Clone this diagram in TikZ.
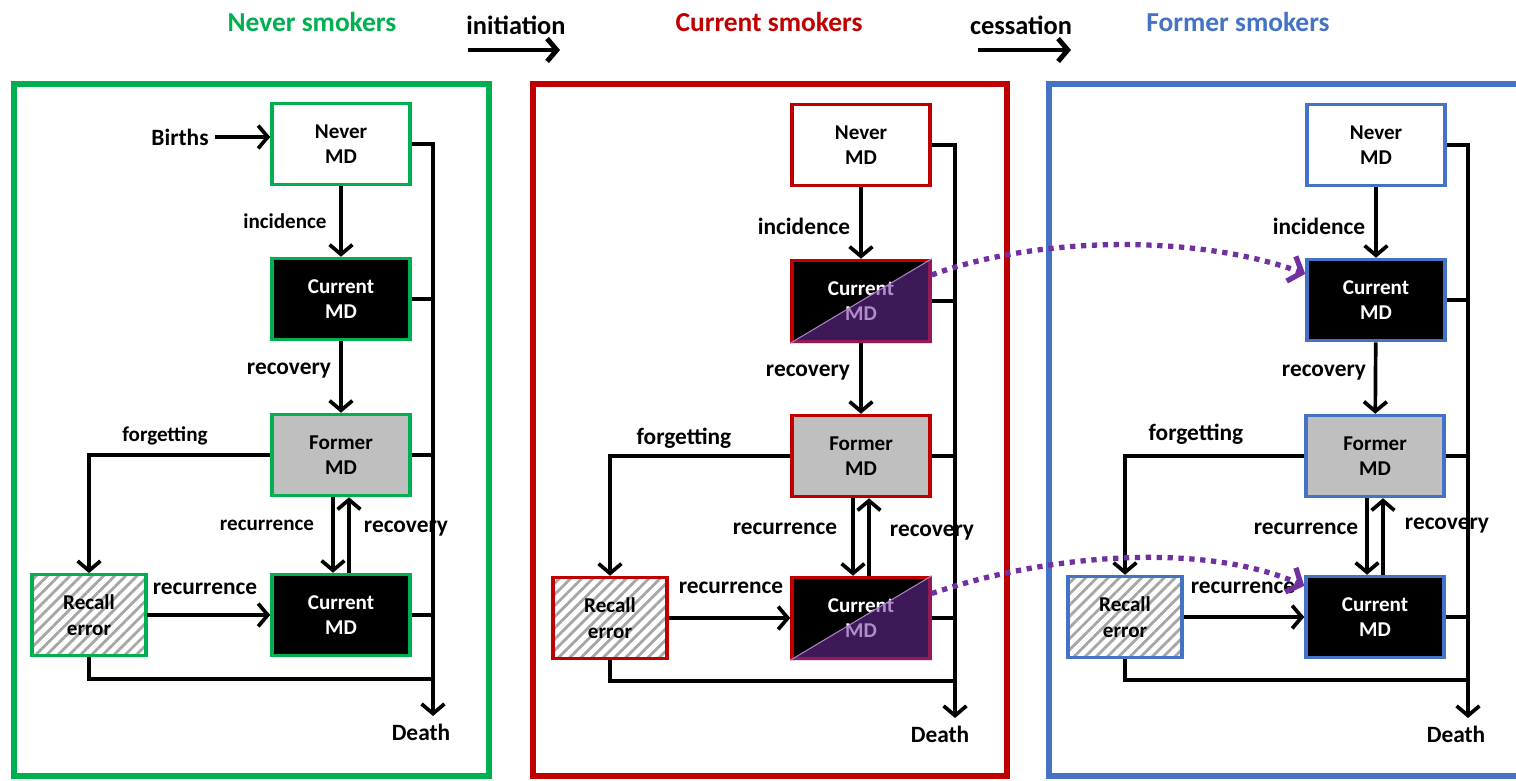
\documentclass[tikz,border=0pt]{standalone}
\usepackage{fontspec}
\setmainfont{Carlito}
\usepackage{xcolor}
\usetikzlibrary{arrows.meta,patterns.meta,calc}

\definecolor{nevgreen}{RGB}{0,176,80}
\definecolor{curred}{RGB}{192,0,0}
\definecolor{formblue}{RGB}{68,114,196}
\definecolor{mdpurple}{RGB}{112,48,160}

\begin{document}
\begin{tikzpicture}[x=0.2mm, y=-0.2mm, font=\bfseries,
  state/.style={draw, line width=2pt, minimum width=27.6mm, minimum height=16.2mm,
                align=center, font=\fontsize{12}{14.5}\selectfont\bfseries},
  never/.style={state, fill=white},
  current/.style={state, fill=black, text=white},
  former/.style={state, fill=black!25},
  recall/.style={state, minimum width=22.8mm,
                 pattern={Lines[angle=45,distance=4.5pt,line width=1.6pt]}, pattern color=black!35},
  ln/.style={line width=2.1pt},
  arr/.style={ln, -{Straight Barb[length=5.5pt,width=13pt]}},
  lab/.style={font=\fontsize{13.3}{15}\selectfont\bfseries},
  slab/.style={font=\fontsize{12}{14}\selectfont\bfseries},
  head/.style={font=\fontsize{15.6}{18}\selectfont\bfseries},
  mdlink/.style={mdpurple, line width=3pt, dash pattern=on 3pt off 3.2pt,
                 -{Straight Barb[length=6.5pt,width=15pt]}}
]
\useasboundingbox (0,0) rectangle (1516,780);

% Headers
\node (hnev) at (312,22) [head, text=nevgreen] {Never smokers};
\node (hcur) at (769,22) [head, text=curred] {Current smokers};
\node (hfor) at (1238,22) [head, text=formblue] {Former smokers};
\node (init) at (516,25) [font=\fontsize{15}{17}\selectfont\bfseries] {initiation};
\node (cess) at (1021,25) [font=\fontsize{15}{17}\selectfont\bfseries] {cessation};
\coordinate (ia) at (468,50); \coordinate (ib) at (560,50);
\coordinate (ca) at (978,50); \coordinate (cb) at (1071,50);
\draw[arr, line width=2.8pt] (ia) -- (ib);
\draw[arr, line width=2.8pt] (ca) -- (cb);

% Panel frames
\draw[nevgreen, line width=3.2pt] (14,84) rectangle (489,776);
\draw[curred, line width=3.2pt] (533,84) rectangle (1007,776);
\draw[formblue, line width=3.2pt] (1049,84) rectangle (1540,776);

% Never smokers
\node (nev1) at (341,144) [never, draw=nevgreen] {Never\\MD};
\node (cur1) at (341,299) [current, draw=nevgreen] {Current\\MD};
\node (for1) at (341,455) [former, draw=nevgreen] {Former\\MD};
\node (curb1) at (341,615) [current, draw=nevgreen] {Current\\MD};
\node (rec1) at (89,615) [recall, draw=nevgreen] {Recall\\error};
\node (births) at (180,137) [lab] {Births};
\node (death1) at (421,732) [lab] {Death};
\coordinate (d1) at (433,716);
\coordinate (b1) at (433,679);

\draw[arr] (births.east) -- (births.east -| nev1.west);
\draw[arr] (nev1) -- (cur1);
\draw[arr] (cur1) -- (for1);
\draw[arr] ([xshift=-1.6mm]for1.south) -- ([xshift=-1.6mm]curb1.north);
\draw[arr] ([xshift=1.6mm]curb1.north) -- ([xshift=1.6mm]for1.south);
\draw[arr] (for1.west) -| (rec1.north);
\draw[arr] (rec1.east) -- (curb1.west);
\draw[arr] (nev1.east) -| (d1);
\draw[ln] (cur1.east) -- (cur1.east -| d1);
\draw[ln] (for1.east) -- (for1.east -| d1);
\draw[ln] (curb1.east) -- (curb1.east -| d1);
\draw[ln] (rec1.south) |- (b1);

\node (inc1) at (285,221) [slab] {incidence};
\node (rcv1) at (289,371) [lab] {recovery};
\node (fgt1) at (165,436) [slab] {forgetting};
\node (rcr1) at (267,525) [slab] {recurrence};
\node (rcvb1) at (406,529) [lab] {recovery};
\node (rcrb1) at (205,589) [lab] {recurrence};

% Current smokers
\node (nev2) at (861,145) [never, draw=curred] {Never\\MD};
\node (cur2) at (861,301) [current, draw=curred] {Current\\MD};
\node (for2) at (861,456) [former, draw=curred] {Former\\MD};
\node (curb2) at (861,618) [current, draw=curred] {Current\\MD};
\node (rec2) at (610,618) [recall, draw=curred] {Recall\\error};
\node (death2) at (940,734) [lab] {Death};
\coordinate (d2) at (955,718);
\coordinate (b2) at (955,681);

\fill[mdpurple, opacity=.55] (cur2.south west) -- (cur2.north east) -- (cur2.south east) -- cycle;
\draw[mdpurple!60, line width=.6pt] (cur2.south west) -- (cur2.north east);
\fill[mdpurple, opacity=.55] (curb2.south west) -- (curb2.north east) -- (curb2.south east) -- cycle;
\draw[mdpurple!60, line width=.6pt] (curb2.south west) -- (curb2.north east);

\draw[arr] (nev2) -- (cur2);
\draw[arr] (cur2) -- (for2);
\draw[arr] ([xshift=-1.6mm]for2.south) -- ([xshift=-1.6mm]curb2.north);
\draw[arr] ([xshift=1.6mm]curb2.north) -- ([xshift=1.6mm]for2.south);
\draw[arr] (for2.west) -| (rec2.north);
\draw[arr] (rec2.east) -- (curb2.west);
\draw[arr] (nev2.east) -| (d2);
\draw[ln] (cur2.east) -- (cur2.east -| d2);
\draw[ln] (for2.east) -- (for2.east -| d2);
\draw[ln] (curb2.east) -- (curb2.east -| d2);
\draw[ln] (rec2.south) |- (b2);

\node (inc2) at (804,226) [lab] {incidence};
\node (rcv2) at (808,373) [lab] {recovery};
\node (fgt2) at (684,438) [lab] {forgetting};
\node (rcr2) at (785,529) [lab] {recurrence};
\node (rcvb2) at (932,533) [lab] {recovery};
\node (rcrb2) at (731,588) [lab] {recurrence};

% Former smokers
\node (rcrb3) at (1243,588) [lab] {recurrence};
\node (nev3) at (1376,145) [never, draw=formblue] {Never\\MD};
\node (cur3) at (1376,300) [current, draw=formblue] {Current\\MD};
\node (for3) at (1375,456) [former, draw=formblue] {Former\\MD};
\node (curb3) at (1375,617) [current, draw=formblue] {Current\\MD};
\node (rec3) at (1125,617) [recall, draw=formblue] {Recall\\error};
\node (death3) at (1456,734) [lab] {Death};
\coordinate (d3) at (1468,718);
\coordinate (b3) at (1468,680);

\draw[arr] (nev3) -- (cur3);
\draw[arr] (cur3) -- (for3);
\draw[arr] ([xshift=-1.6mm]for3.south) -- ([xshift=-1.6mm]curb3.north);
\draw[arr] ([xshift=1.6mm]curb3.north) -- ([xshift=1.6mm]for3.south);
\draw[arr] (for3.west) -| (rec3.north);
\draw[arr] (rec3.east) -- (curb3.west);
\draw[arr] (nev3.east) -| (d3);
\draw[ln] (cur3.east) -- (cur3.east -| d3);
\draw[ln] (for3.east) -- (for3.east -| d3);
\draw[ln] (curb3.east) -- (curb3.east -| d3);
\draw[ln] (rec3.south) |- (b3);

\node (inc3) at (1319,226) [lab] {incidence};
\node (rcv3) at (1324,373) [lab] {recovery};
\node (fgt3) at (1196,434) [lab] {forgetting};
\node (rcr3) at (1306,529) [lab] {recurrence};
\node (rcvb3) at (1447,526) [lab] {recovery};

% MD carried over at cessation
\draw[mdlink] (cur2) .. controls (1040,235) and (1200,235) .. (cur3);
\draw[mdlink] (curb2) .. controls (1040,556) and (1200,540) .. (curb3);

\end{tikzpicture}
\end{document}
